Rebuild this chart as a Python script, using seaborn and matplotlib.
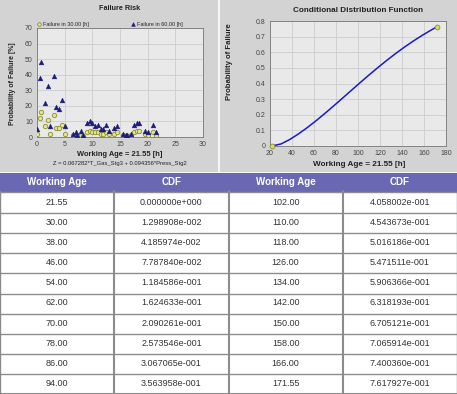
import numpy as np
import pandas as pd
import matplotlib
matplotlib.use("Agg")
import matplotlib.pyplot as plt
from matplotlib.patches import Rectangle
import seaborn as sns

# Failure risk scatter (working age [h] vs probability of failure [%])
age_pts = [0.0, 0.5, 0.8, 1.5, 2.0, 2.3, 3.0, 3.5, 4.0, 4.5, 5.0, 6.5, 7.0, 7.3,
           8.0, 8.3, 9.0, 9.5, 10.0, 10.5, 11.0, 11.5, 12.0, 12.5, 13.0, 14.0,
           14.5, 15.5, 16.0, 16.3, 17.0, 17.5, 18.0, 18.5, 19.5, 20.0, 21.0, 21.5]
fail_30h = [2, 12, 16, 7, 11, 2, 14, 6, 6, 8, 2, 1, 1, 0.5, 1, 0.5, 3, 4, 3, 3, 3,
            2, 2, 3, 2, 2, 3, 1, 0.5, 0.5, 1, 3, 4, 4, 2, 1, 3, 1.5]
fail_60h = [5, 38, 48, 22, 33, 7, 39, 19, 18, 24, 7, 2, 3, 1, 4, 1, 9, 10, 9, 7, 8,
            5, 5, 8, 4, 6, 7, 2, 1, 1, 2, 8, 9, 9, 4, 3, 8, 3]

# Conditional distribution function table
age_left = ["21.55", "30.00", "38.00", "46.00", "54.00",
            "62.00", "70.00", "78.00", "86.00", "94.00"]
cdf_left = ["0.000000e+000", "1.298908e-002", "4.185974e-002", "7.787840e-002",
            "1.184586e-001", "1.624633e-001", "2.090261e-001", "2.573546e-001",
            "3.067065e-001", "3.563958e-001"]
age_right = ["102.00", "110.00", "118.00", "126.00", "134.00",
             "142.00", "150.00", "158.00", "166.00", "171.55"]
cdf_right = ["4.058002e-001", "4.543673e-001", "5.016186e-001", "5.471511e-001",
             "5.906366e-001", "6.318193e-001", "6.705121e-001", "7.065914e-001",
             "7.400360e-001", "7.617927e-001"]
headers = ["Working Age", "CDF", "Working Age", "CDF"]

sns.set_style("white")
plt.rcParams['font.family'] = ['Liberation Sans', 'DejaVu Sans']

W, H = 457, 394
fig = plt.figure(figsize=(W / 100, H / 100), dpi=100)
fig.patch.set_facecolor("white")


def fbox(x0, y0, x1, y1):
    # pixel box (top-left origin) -> figure fractions
    return [x0 / W, 1 - y1 / H, (x1 - x0) / W, (y1 - y0) / H]


def fpt(x, y):
    return x / W, 1 - y / H


panel_bg = "#d3d3d3"
fig.patches.append(Rectangle((0, 1 - 171 / H), 217 / W, 171 / H,
                             transform=fig.transFigure, color=panel_bg, zorder=-5))
fig.patches.append(Rectangle((220 / W, 1 - 171 / H), 237 / W, 171 / H,
                             transform=fig.transFigure, color=panel_bg, zorder=-5))

plot_face = "#e9e9e9"
grid_col = "#cdcdcd"
tick_kw = dict(labelsize=5, colors="#444444", length=2, width=0.6, pad=1)
txt_col = "#222222"

# ---- Failure Risk
ax1 = fig.add_axes(fbox(37, 28, 203, 137))
ax1.set_facecolor(plot_face)
sns.scatterplot(x=age_pts, y=fail_30h, ax=ax1, marker="o", s=10, color="#e4e49a",
                edgecolor="#8f8f2a", linewidth=0.6, label="Failure in 30.00 [h]", zorder=3)
sns.scatterplot(x=age_pts, y=fail_60h, ax=ax1, marker="^", s=12, color="#1c1c7a",
                edgecolor="#1c1c7a", linewidth=0.3, label="Failure in 60.00 [h]", zorder=4)
ax1.set_xlim(0, 30)
ax1.set_ylim(0, 70)
ax1.set_xticks(range(0, 31, 5))
ax1.set_yticks(range(0, 71, 10))
ax1.grid(True, color=grid_col, linewidth=0.6)
ax1.tick_params(**tick_kw)
for s in ax1.spines.values():
    s.set_color("#777777")
    s.set_linewidth(0.6)
ax1.set_xlabel("")
ax1.set_ylabel("")
ax1.legend(loc="lower left", bbox_to_anchor=(-0.02, 0.99), ncol=2, frameon=False,
           fontsize=4, columnspacing=7.5, handletextpad=0.2, borderaxespad=0,
           handlelength=1.0, markerscale=0.8)
fig.text(*fpt(120, 8), "Failure Risk", ha="center", va="center",
         fontsize=5.2, fontweight="bold", color=txt_col)
fig.text(*fpt(13, 84), "Probability of Failure [%]", rotation=90, ha="center",
         va="center", fontsize=5, fontweight="bold", color=txt_col)
fig.text(*fpt(120, 155), "Working Age = 21.55 [h]", ha="center", va="center",
         fontsize=5.4, fontweight="bold", color=txt_col)
fig.text(*fpt(120, 163), "Z = 0.067282*T_Gas_Stg3 + 0.094356*Press_Stg2",
         ha="center", va="center", fontsize=4.2, color=txt_col)

# ---- Conditional Distribution Function
ages = [float(a) for a in age_left + age_right]
cdfs = [float(c) for c in cdf_left + cdf_right]
ax2 = fig.add_axes(fbox(270, 21, 446, 146))
ax2.set_facecolor(plot_face)
sns.lineplot(x=ages, y=cdfs, ax=ax2, color="#1a1acc", linewidth=1.1, zorder=3)
sns.scatterplot(x=[ages[0], ages[-1]], y=[cdfs[0], cdfs[-1]], ax=ax2, s=12,
                color="#d8d870", edgecolor="#8f8f2a", linewidth=0.6, zorder=4,
                clip_on=False)
ax2.set_xlim(20, 180)
ax2.set_ylim(0, 0.8)
ax2.set_xticks(range(20, 181, 20))
ax2.set_yticks(np.arange(0, 0.81, 0.1))
ax2.set_yticklabels(["0"] + [f"{v:.1f}" for v in np.arange(0.1, 0.81, 0.1)])
ax2.grid(True, color=grid_col, linewidth=0.6)
ax2.tick_params(**tick_kw)
for s in ax2.spines.values():
    s.set_color("#777777")
    s.set_linewidth(0.6)
fig.text(*fpt(358, 11), "Conditional Distribution Function", ha="center",
         va="center", fontsize=5.9, fontweight="bold", color=txt_col)
fig.text(*fpt(359, 165), "Working Age = 21.55 [h]", ha="center", va="center",
         fontsize=5.9, fontweight="bold", color=txt_col)
fig.text(*fpt(230, 62), "Probability of Failure", rotation=90, ha="center",
         va="center", fontsize=5.6, fontweight="bold", color=txt_col)

# ---- Table
axt = fig.add_axes(fbox(0, 173, 457, 394))
axt.set_xlim(0, 4)
nrows = len(age_left)
axt.set_ylim(nrows + 1, 0)
axt.axis("off")
axt.add_patch(Rectangle((0, 0), 4, 0.92, color="#6a68b3", zorder=1))
for j, h in enumerate(headers):
    axt.text(j + 0.5, 0.46, h, ha="center", va="center", fontsize=7,
             fontweight="bold", color="white")
cols = [age_left, cdf_left, age_right, cdf_right]
for i in range(nrows):
    for j, col in enumerate(cols):
        axt.text(j + 0.5, i + 1.47, col[i], ha="center", va="center",
                 fontsize=6.5, color="#333333")
line_col = "#8c8c8c"
for i in range(1, nrows + 1):
    yy = i - 0.04 if i == 1 else i
    axt.plot([0, 4], [yy, yy], color=line_col, linewidth=1.0, zorder=2)
axt.plot([0, 4], [nrows + 0.98, nrows + 0.98], color=line_col, linewidth=1.5, zorder=2)
for j in range(0, 5):
    x = min(max(j, 0.003), 3.997)
    axt.plot([x, x], [0.92, nrows + 1], color=line_col,
             linewidth=1.5 if j in (1, 2, 3) else 1.0, zorder=2)

fig.savefig("out.png", dpi=100)
